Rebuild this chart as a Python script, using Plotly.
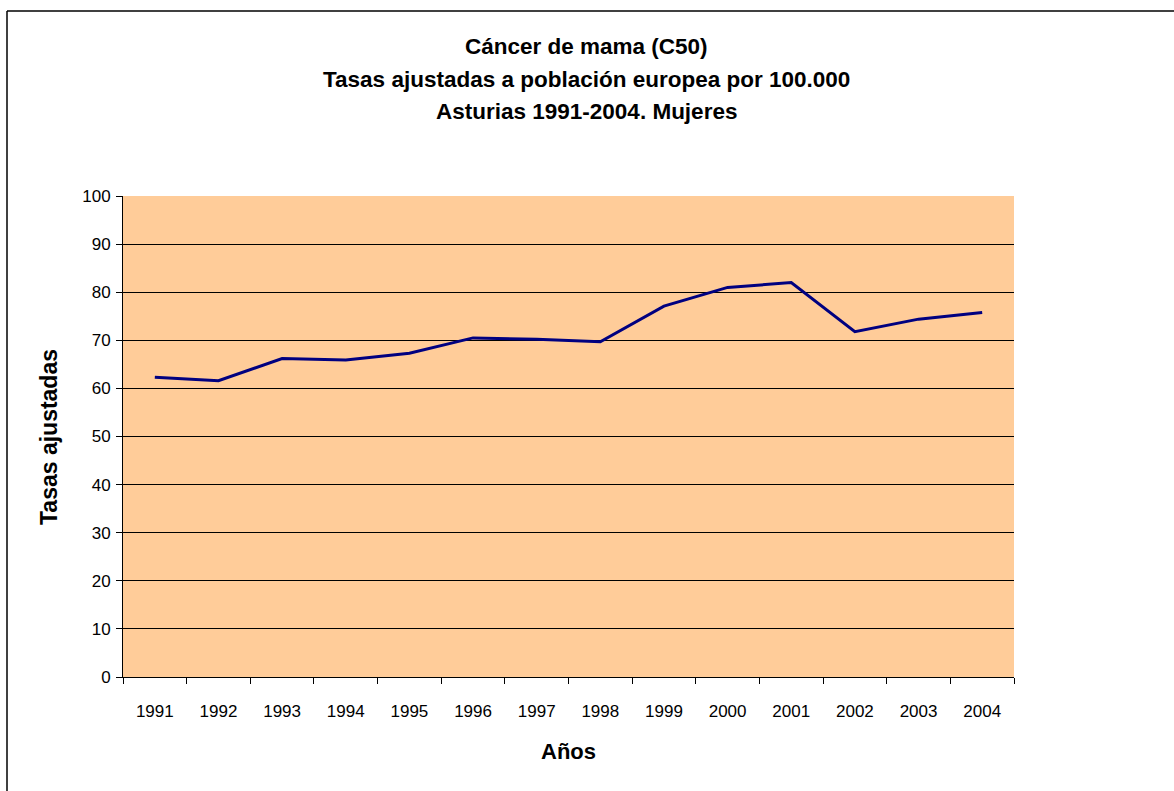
import plotly.graph_objects as go

years = ["1991", "1992", "1993", "1994", "1995", "1996", "1997",
         "1998", "1999", "2000", "2001", "2002", "2003", "2004"]
tasas = [62.3, 61.6, 66.2, 65.9, 67.3, 70.5, 70.2,
         69.7, 77.1, 81.0, 82.0, 71.8, 74.4, 75.8]
y_ticks = [0, 10, 20, 30, 40, 50, 60, 70, 80, 90, 100]
title_lines = ["Cáncer de mama (C50)",
               "Tasas ajustadas a población europea por 100.000",
               "Asturias 1991-2004. Mujeres"]
x_title = "Años"
y_title = "Tasas ajustadas"

W, H = 1174, 791
L, R, T, B = 123, 1014, 196, 677
FONT = "Liberation Sans Narrow, Arial Narrow, Liberation Sans, Arial, sans-serif"


def px(x):
    return (x - L) / (R - L)


def py(y):
    return (B - y) / (B - T)


fig = go.Figure()
fig.add_trace(go.Scatter(
    x=years, y=tasas, mode="lines",
    line=dict(color="#000080", width=3),
    hoverinfo="x+y", showlegend=False,
))

annotations = []
for txt, yy in zip(title_lines, [46, 79, 111]):
    annotations.append(dict(
        text=f"<b>{txt}</b>", xref="paper", yref="paper",
        x=px(W / 2 - 1), y=py(yy), xanchor="center", yanchor="middle",
        showarrow=False, font=dict(family=FONT, size=22.5, color="black"),
    ))
annotations.append(dict(
    text=f"<b>{x_title}</b>", xref="paper", yref="paper",
    x=px(568), y=py(751), xanchor="center", yanchor="middle",
    showarrow=False, font=dict(family=FONT, size=22, color="black"),
))
annotations.append(dict(
    text=f"<b>{y_title}</b>", xref="paper", yref="paper",
    x=px(49), y=py(437), xanchor="center", yanchor="middle",
    textangle=-90, showarrow=False,
    font=dict(family=FONT, size=23, color="black"),
))

shapes = [
    dict(type="line", xref="paper", yref="paper",
         x0=px(7), x1=px(W + 5), y0=py(11), y1=py(11),
         line=dict(color="black", width=1.5)),
    dict(type="line", xref="paper", yref="paper",
         x0=px(7), x1=px(7), y0=py(11), y1=py(H + 5),
         line=dict(color="black", width=1.5)),
]

fig.update_layout(
    width=W, height=H,
    margin=dict(l=L, r=W - R, t=T, b=H - B, pad=0),
    paper_bgcolor="white",
    plot_bgcolor="#FFCC99",
    font=dict(family=FONT, size=17, color="black"),
    annotations=annotations,
    shapes=shapes,
)
fig.update_xaxes(
    type="category", range=[-0.5, 13.5],
    tickson="boundaries", ticks="outside", ticklen=6, tickwidth=1,
    tickcolor="black", showgrid=False, zeroline=False,
    showline=True, linecolor="black", linewidth=1,
    tickfont=dict(family=FONT, size=17, color="black"),
    ticklabelstandoff=19,
)
fig.update_yaxes(
    range=[0, 100], tickvals=y_ticks, ticktext=[str(v) for v in y_ticks],
    ticks="outside", ticklen=6, tickwidth=1, tickcolor="black",
    showgrid=True, gridcolor="black", gridwidth=1, zeroline=False,
    showline=True, linecolor="black", linewidth=1,
    tickfont=dict(family=FONT, size=17, color="black"),
    ticklabelstandoff=2,
)

fig.write_html("out.html", config={"displayModeBar": False},
               post_script="document.body.style.margin='0px';")
